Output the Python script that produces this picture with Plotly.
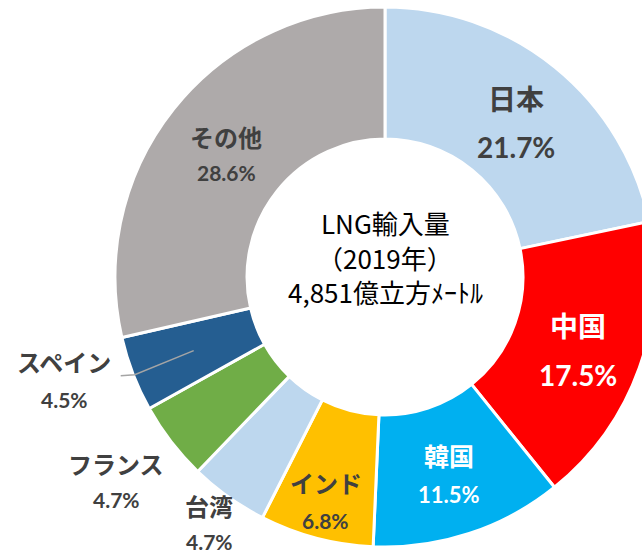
import math
import plotly.graph_objects as go

# LNG import shares by country, 2019
countries = ["日本", "中国", "韓国", "インド", "台湾", "フランス", "スペイン", "その他"]
shares = [21.7, 17.5, 11.5, 6.8, 4.7, 4.7, 4.5, 28.6]
slice_colors = ["#BDD7EE", "#FF0000", "#00B0F0", "#FFC000",
                "#BDD7EE", "#70AD47", "#255E91", "#AEAAAA"]
center_lines = ["LNG輸入量", "（2019年）", "4,851億立方ﾒｰﾄﾙ"]

# label styling: radius from centre (px), font sizes, text colour, line gap
label_radius = [203, 206, 208, 232, 303, 338, 337, 201]
name_size = [28, 28, 25, 24, 24, 24, 24, 24]
pct_size = [28, 28, 22, 21, 21, 21, 21, 21]
label_color = ["#404040", "#FFFFFF", "#FFFFFF", "#404040",
               "#404040", "#404040", "#404040", "#404040"]
label_gap = [49, 50, 39, 38, 36, 36, 38, 36]
label_angle_shift = [1.2, 1.1, 0.3, 0.0, 0.0, 0.3, 3.2, -0.8]

W, H = 660, 553
ML, MR, MT, MB = 115, 5, 7, 6
DW, DH = W - ML - MR, H - MT - MB      # pie domain in pixels


def to_paper(dx, dy):
    """Pixel offset from the pie centre -> paper coordinates."""
    return 0.5 + dx / DW, 0.5 - dy / DH


fig = go.Figure(go.Pie(
    labels=countries,
    values=shares,
    sort=False,
    direction="clockwise",
    rotation=0,
    hole=0.511,
    marker=dict(colors=slice_colors, line=dict(color="#FFFFFF", width=3)),
    textinfo="none",
    hoverinfo="label+percent",
    showlegend=False,
    domain=dict(x=[0, 1], y=[0, 1]),
))

annotations = []
total = sum(shares)
cum = 0.0
mid_angles = []
for i, (name, v) in enumerate(zip(countries, shares)):
    mid = (cum + v / 2) / total * 360.0
    mid_angles.append(mid)
    cum += v
    th = math.radians(mid + label_angle_shift[i])
    dx = label_radius[i] * math.sin(th)
    dy = -label_radius[i] * math.cos(th)
    g = label_gap[i] / 2
    for txt, off, fam, size in ((name, -g, "Noto Sans CJK JP", name_size[i]),
                                (f"{v:.1f}%", g, "Lato", pct_size[i])):
        x, y = to_paper(dx, dy + off)
        annotations.append(dict(
            x=x, y=y, xref="paper", yref="paper",
            text=f"<b>{txt}</b>", showarrow=False,
            xanchor="center", yanchor="middle",
            font=dict(family=fam, size=size, color=label_color[i]),
        ))

# centre caption
for txt, off in zip(center_lines, (-55, -20, 14)):
    x, y = to_paper(0, off)
    annotations.append(dict(
        x=x, y=y, xref="paper", yref="paper", text=txt, showarrow=False,
        xanchor="center", yanchor="middle",
        font=dict(family="Noto Sans CJK JP", size=26, color="#000000"),
    ))

# leader line for the Spain label
sp = countries.index("スペイン")
th = math.radians(mid_angles[sp])
sx, sy = 205 * math.sin(th), -205 * math.cos(th)
ex, ey = sx - 59, sy + 24
fx, fy = ex - 14, ey + 1
p = [to_paper(sx, sy), to_paper(ex, ey), to_paper(fx, fy)]
path = "M {} {} L {} {} L {} {}".format(p[0][0], p[0][1], p[1][0], p[1][1],
                                        p[2][0], p[2][1])
fig.add_shape(type="path", path=path, xref="paper", yref="paper",
              line=dict(color="#A5A5A5", width=1.5))

fig.update_layout(
    width=W, height=H,
    margin=dict(l=ML, r=MR, t=MT, b=MB),
    paper_bgcolor="#FFFFFF",
    plot_bgcolor="#FFFFFF",
    annotations=annotations,
)

fig.write_html(
    "out.html",
    post_script="document.documentElement.style.overflow='hidden';"
                "document.body.style.overflow='hidden';"
                "document.body.style.margin='0';",
)
